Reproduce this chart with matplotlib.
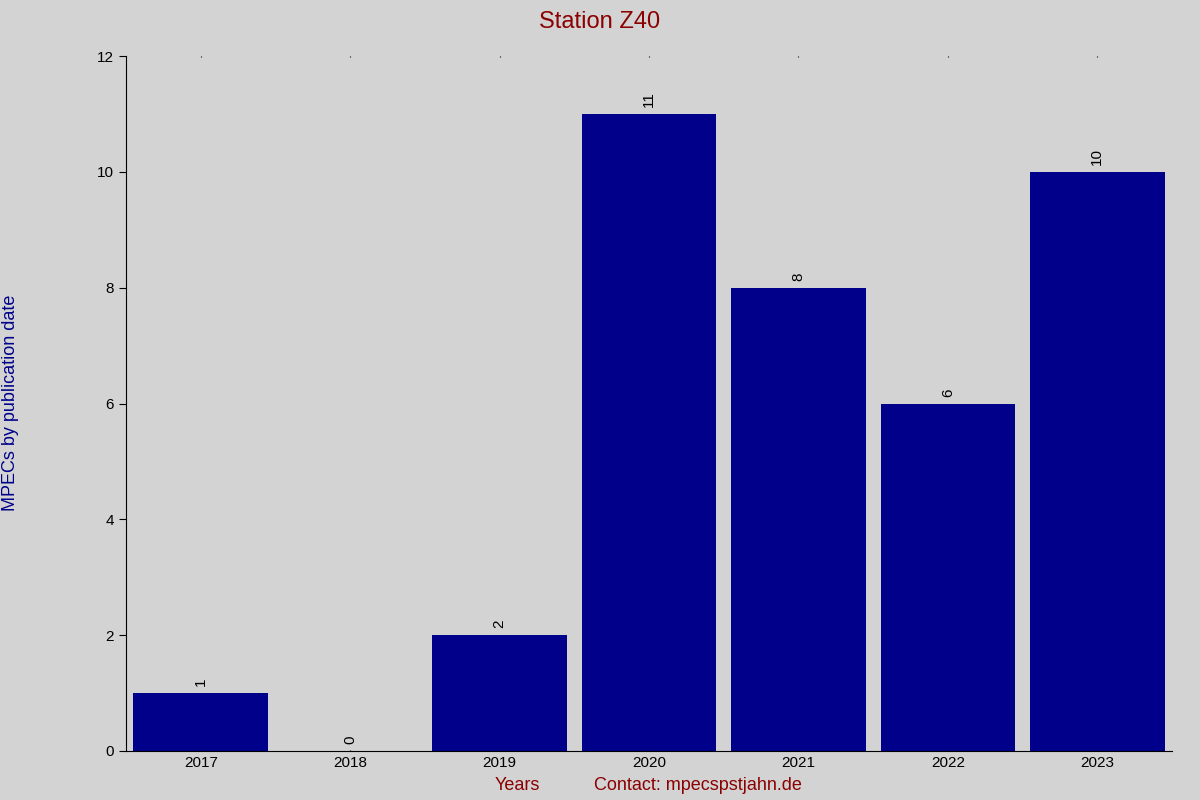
import matplotlib
matplotlib.use('Agg')
import matplotlib.pyplot as plt

years = ['2017', '2018', '2019', '2020', '2021', '2022', '2023']
counts = [1, 0, 2, 11, 8, 6, 10]

plt.rcParams['font.family'] = ['Liberation Sans', 'DejaVu Sans']

fig = plt.figure(figsize=(12, 8), dpi=100, facecolor='#d3d3d3')
ax = fig.add_axes([126/1200, 1-751/800, (1172-126)/1200, (751-56)/800])
ax.set_facecolor('#d3d3d3')

x = range(len(years))
ax.bar(x, counts, width=0.9, color='#00008b')
for i, v in zip(x, counts):
    ax.text(i, v + 0.12, str(v), rotation=90, ha='center', va='bottom', fontsize=11)

ax.set_xlim(-0.5, 6.5)
ax.set_ylim(0, 12)
ax.set_xticks(list(x))
ax.set_xticklabels(years, fontsize=11)
ax.set_yticks(range(0, 13, 2))
ax.tick_params(axis='y', labelsize=11, direction='out', length=5)
ax.tick_params(axis='x', direction='in', length=1, top=True)
for s in ['top', 'right']:
    ax.spines[s].set_visible(False)

fig.text(0.5, 1-22/800, 'Station Z40', ha='center', va='center', fontsize=17, color='#8b0000')
fig.text(517/1200, 1-786/800, 'Years', ha='center', va='center', fontsize=13, color='#8b0000')
fig.text(698/1200, 1-786/800, 'Contact: mpecspstjahn.de', ha='center', va='center', fontsize=13, color='#8b0000')
fig.text(11/1200, 1-403/800, 'MPECs by publication date', rotation=90, ha='center', va='center', fontsize=13, color='#00008b')

fig.savefig('out.png', dpi=100, facecolor=fig.get_facecolor())
